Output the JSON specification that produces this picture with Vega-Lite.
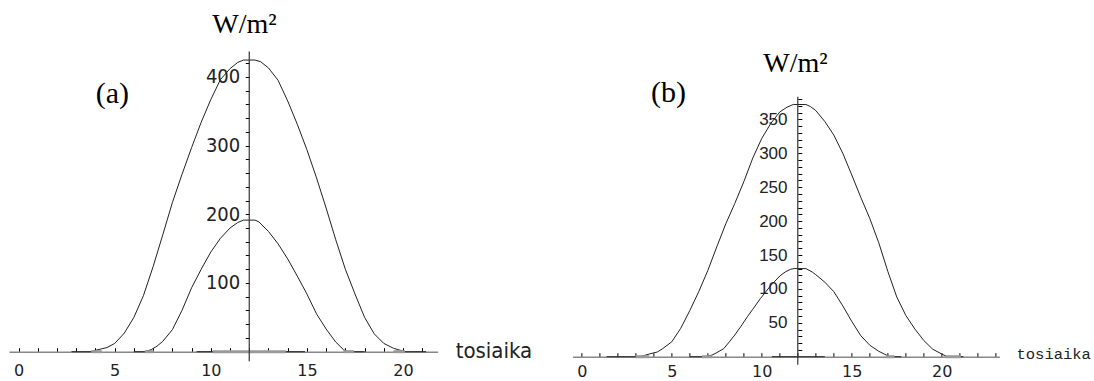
{
  "$schema": "https://vega.github.io/schema/vega-lite/v6.json",
  "padding": {"left": 9, "top": 0, "right": 0, "bottom": 0},
  "background": "white",
  "config": {"view": {"stroke": null}, "axis": {"labelOverlap": false, "labelFlush": false}},
  "bounds": "flush",
  "spacing": 134.4,
  "datasets": {
    "curvesA": [
      {"s": "top", "t": 2.75, "v": 0}, {"s": "top", "t": 3.78, "v": 0}, {"s": "top", "t": 4, "v": 2}, {"s": "top", "t": 4.3, "v": 4}, {"s": "top", "t": 4.6, "v": 6}, {"s": "top", "t": 5, "v": 12}, {"s": "top", "t": 5.5, "v": 27}, {"s": "top", "t": 6, "v": 50}, {"s": "top", "t": 6.5, "v": 82}, {"s": "top", "t": 7, "v": 124}, {"s": "top", "t": 7.5, "v": 170}, {"s": "top", "t": 8, "v": 217}, {"s": "top", "t": 8.5, "v": 258}, {"s": "top", "t": 9, "v": 297}, {"s": "top", "t": 9.5, "v": 334}, {"s": "top", "t": 10, "v": 367}, {"s": "top", "t": 10.5, "v": 396}, {"s": "top", "t": 11, "v": 412}, {"s": "top", "t": 11.4, "v": 421}, {"s": "top", "t": 11.7, "v": 424.5}, {"s": "top", "t": 12.3, "v": 424.5}, {"s": "top", "t": 12.6, "v": 422}, {"s": "top", "t": 13, "v": 413}, {"s": "top", "t": 13.5, "v": 395}, {"s": "top", "t": 14, "v": 365}, {"s": "top", "t": 14.5, "v": 331}, {"s": "top", "t": 15, "v": 294}, {"s": "top", "t": 15.5, "v": 253}, {"s": "top", "t": 16, "v": 209}, {"s": "top", "t": 16.5, "v": 163}, {"s": "top", "t": 17, "v": 120}, {"s": "top", "t": 17.5, "v": 84}, {"s": "top", "t": 18, "v": 50}, {"s": "top", "t": 18.5, "v": 26}, {"s": "top", "t": 19, "v": 12}, {"s": "top", "t": 19.5, "v": 5}, {"s": "top", "t": 20.1, "v": 0}, {"s": "top", "t": 21.2, "v": 0},
      {"s": "low", "t": 6.0, "v": 0}, {"s": "low", "t": 6.57, "v": 0}, {"s": "low", "t": 6.9, "v": 3}, {"s": "low", "t": 7.2, "v": 8}, {"s": "low", "t": 7.5, "v": 15}, {"s": "low", "t": 8, "v": 32}, {"s": "low", "t": 8.5, "v": 60}, {"s": "low", "t": 9, "v": 93}, {"s": "low", "t": 9.5, "v": 120}, {"s": "low", "t": 10, "v": 145}, {"s": "low", "t": 10.5, "v": 165}, {"s": "low", "t": 11, "v": 180}, {"s": "low", "t": 11.4, "v": 188}, {"s": "low", "t": 11.7, "v": 191.5}, {"s": "low", "t": 12.3, "v": 191.5}, {"s": "low", "t": 12.5, "v": 189}, {"s": "low", "t": 13, "v": 175}, {"s": "low", "t": 13.5, "v": 157}, {"s": "low", "t": 14, "v": 135}, {"s": "low", "t": 14.5, "v": 110}, {"s": "low", "t": 15, "v": 84}, {"s": "low", "t": 15.5, "v": 55}, {"s": "low", "t": 16, "v": 33}, {"s": "low", "t": 16.5, "v": 14}, {"s": "low", "t": 16.9, "v": 3}, {"s": "low", "t": 17.1, "v": 0}, {"s": "low", "t": 18, "v": 0},
      {"s": "zero", "t": 9.26, "v": 0}, {"s": "zero", "t": 14.9, "v": 0}
    ],
    "curvesB": [
      {"s": "top", "t": 1.38, "v": 0}, {"s": "top", "t": 3.2, "v": 0}, {"s": "top", "t": 3.5, "v": 2}, {"s": "top", "t": 3.75, "v": 4}, {"s": "top", "t": 4.2, "v": 7}, {"s": "top", "t": 4.5, "v": 12}, {"s": "top", "t": 5, "v": 22}, {"s": "top", "t": 5.5, "v": 42}, {"s": "top", "t": 6, "v": 68}, {"s": "top", "t": 6.5, "v": 96}, {"s": "top", "t": 7, "v": 127}, {"s": "top", "t": 7.5, "v": 162}, {"s": "top", "t": 8, "v": 196}, {"s": "top", "t": 8.5, "v": 226}, {"s": "top", "t": 9, "v": 258}, {"s": "top", "t": 9.5, "v": 293}, {"s": "top", "t": 10, "v": 322}, {"s": "top", "t": 10.5, "v": 344}, {"s": "top", "t": 11, "v": 361}, {"s": "top", "t": 11.4, "v": 368}, {"s": "top", "t": 11.75, "v": 372}, {"s": "top", "t": 12.45, "v": 372}, {"s": "top", "t": 12.7, "v": 369}, {"s": "top", "t": 13, "v": 363}, {"s": "top", "t": 13.5, "v": 347}, {"s": "top", "t": 14, "v": 327}, {"s": "top", "t": 14.5, "v": 300}, {"s": "top", "t": 15, "v": 268}, {"s": "top", "t": 15.5, "v": 235}, {"s": "top", "t": 16, "v": 204}, {"s": "top", "t": 16.5, "v": 168}, {"s": "top", "t": 17, "v": 126}, {"s": "top", "t": 17.5, "v": 88}, {"s": "top", "t": 18, "v": 61}, {"s": "top", "t": 18.5, "v": 41}, {"s": "top", "t": 19, "v": 24}, {"s": "top", "t": 19.5, "v": 11}, {"s": "top", "t": 20, "v": 4}, {"s": "top", "t": 20.3, "v": 0}, {"s": "top", "t": 21.2, "v": 0},
      {"s": "low", "t": 6.0, "v": 0}, {"s": "low", "t": 6.86, "v": 0}, {"s": "low", "t": 7.24, "v": 2.5}, {"s": "low", "t": 7.5, "v": 6}, {"s": "low", "t": 7.89, "v": 12}, {"s": "low", "t": 8.2, "v": 22}, {"s": "low", "t": 8.5, "v": 32}, {"s": "low", "t": 8.82, "v": 44}, {"s": "low", "t": 9.2, "v": 59}, {"s": "low", "t": 9.5, "v": 70}, {"s": "low", "t": 9.93, "v": 86}, {"s": "low", "t": 10.5, "v": 105}, {"s": "low", "t": 11, "v": 119}, {"s": "low", "t": 11.3, "v": 125}, {"s": "low", "t": 11.6, "v": 129}, {"s": "low", "t": 11.8, "v": 130}, {"s": "low", "t": 12.45, "v": 130}, {"s": "low", "t": 12.8, "v": 125}, {"s": "low", "t": 13, "v": 121}, {"s": "low", "t": 13.5, "v": 110}, {"s": "low", "t": 14, "v": 96}, {"s": "low", "t": 14.5, "v": 75}, {"s": "low", "t": 15, "v": 52}, {"s": "low", "t": 15.5, "v": 31}, {"s": "low", "t": 16, "v": 17}, {"s": "low", "t": 16.5, "v": 8}, {"s": "low", "t": 16.8, "v": 4}, {"s": "low", "t": 17.1, "v": 0}, {"s": "low", "t": 17.75, "v": 0},
      {"s": "zero", "t": 10.56, "v": 0}, {"s": "zero", "t": 13.5, "v": 0}
    ],
    "blobsA": [
      {"t1": 3.78, "t2": 4.33, "v": 0}, {"t1": 6.57, "t2": 7.03, "v": 0}, {"t1": 10.1, "t2": 13.9, "v": 0}, {"t1": 16.9, "t2": 17.45, "v": 0}, {"t1": 19.5, "t2": 20.1, "v": 0}
    ],
    "blobsB": [
      {"t1": 2.99, "t2": 3.75, "v": 0}, {"t1": 6.68, "t2": 7.25, "v": 0}, {"t1": 16.9, "t2": 17.37, "v": 0}, {"t1": 20.2, "t2": 21.06, "v": 0}
    ],
    "axisA": [{"t": 12, "v1": -14, "v2": 437}],
    "axisB": [{"t": 12, "v1": -12, "v2": 383.5}],
    "serifA": [{"label": "(a)", "t": 4.875, "v": 361.6, "size": "big"}, {"label": "W/m²", "t": 11.75, "v": 463.5, "size": "mid"}],
    "serifB": [{"label": "(b)", "t": 4.82, "v": 376, "size": "big"}, {"label": "W/m²", "t": 11.87, "v": 420.4, "size": "mid"}],
    "unitA": [{"label": "tosiaika", "t": 22.74, "v": -9.6}],
    "unitB": [{"label": "tosiaika", "t": 24.15, "v": -3.4}]
  },
  "hconcat": [
    {
      "width": 428.6,
      "height": 365,
      "layer": [
        {
          "data": {"name": "curvesA"},
          "mark": {"type": "line", "color": "#222", "strokeWidth": 1},
          "encoding": {
            "x": {"field": "t", "type": "quantitative", "title": null, "scale": {"domain": [-0.5, 21.8], "nice": false, "zero": false},
              "axis": {"title": null, "grid": false, "orient": "bottom", "offset": -13.3, "tickCount": 500, "format": "d", "values": [0,1,2,3,4,5,6,7,8,9,10,11,12,13,14,15,16,17,18,19,20,21],
                "labelExpr": "datum.value % 5 === 0 ? datum.label : ''", "labelFlush": false, "labelOverlap": false,
                "domainColor": "#888", "domainWidth": 1.5, "tickColor": "#000", "tickSize": -4, "tickWidth": 1,
                "labelPadding": 14.5, "labelFont": "DejaVu Sans", "labelFontSize": 16, "labelColor": "#222"}},
            "y": {"field": "v", "type": "quantitative", "title": null, "scale": {"domain": [-19.4, 511.9], "nice": false, "zero": false},
              "axis": {"title": null, "grid": false, "orient": "left", "offset": -240.25, "domain": false, "tickCount": 500, "format": "d",
                "values": [20,40,60,80,100,120,140,160,180,200,220,240,260,280,300,320,340,360,380,400,420],
                "labelExpr": "datum.value % 100 === 0 ? datum.label : ''", "labelFlush": false, "labelOverlap": false,
                "tickColor": "#000", "tickSize": 4, "tickWidth": 1, "labelPadding": 5.5,
                "labelFont": "'Liberation Sans Narrow', 'DejaVu Sans Condensed', 'Liberation Sans', sans-serif", "labelFontSize": 20, "labelColor": "#222"}},
            "detail": {"field": "s"}
          }
        },
        {
          "data": {"name": "blobsA"},
          "mark": {"type": "rule", "color": "#999", "strokeWidth": 3},
          "encoding": {
            "x": {"field": "t1", "type": "quantitative", "title": null},
            "x2": {"field": "t2"},
            "y": {"field": "v", "type": "quantitative", "title": null}
          }
        },
        {
          "data": {"name": "axisA"},
          "mark": {"type": "rule", "color": "#333", "strokeWidth": 1.2},
          "encoding": {
            "x": {"field": "t", "type": "quantitative", "title": null},
            "y": {"field": "v1", "type": "quantitative", "title": null},
            "y2": {"field": "v2"}
          }
        },
        {
          "data": {"name": "serifA"},
          "mark": {"type": "text", "font": "Liberation Serif", "align": "center", "baseline": "alphabetic", "color": "#000"},
          "encoding": {
            "x": {"field": "t", "type": "quantitative", "title": null},
            "y": {"field": "v", "type": "quantitative", "title": null},
            "text": {"field": "label"},
            "size": {"field": "size", "type": "nominal", "scale": {"domain": ["big", "mid"], "range": [30, 28]}, "legend": null}
          }
        },
        {
          "data": {"name": "unitA"},
          "mark": {"type": "text", "font": "'Liberation Sans Narrow', 'DejaVu Sans Condensed', 'Liberation Sans', sans-serif", "fontSize": 22, "align": "left", "baseline": "alphabetic", "color": "#222"},
          "encoding": {
            "x": {"field": "t", "type": "quantitative", "title": null},
            "y": {"field": "v", "type": "quantitative", "title": null},
            "text": {"field": "label"}
          }
        }
      ]
    },
    {
      "width": 427,
      "height": 365,
      "layer": [
        {
          "data": {"name": "curvesB"},
          "mark": {"type": "line", "color": "#222", "strokeWidth": 1},
          "encoding": {
            "x": {"field": "t", "type": "quantitative", "title": null, "scale": {"domain": [-0.52, 23.2], "nice": false, "zero": false},
              "axis": {"title": null, "grid": false, "orient": "bottom", "offset": -8.3, "tickCount": 500, "format": "d", "values": [0,1,2,3,4,5,6,7,8,9,10,11,12,13,14,15,16,17,18,19,20,21,22,23],
                "labelExpr": "datum.value % 5 === 0 ? datum.label : ''", "labelFlush": false, "labelOverlap": false,
                "domainColor": "#888", "domainWidth": 1.5, "tickColor": "#000", "tickSize": -4, "tickWidth": 1,
                "labelPadding": 11, "labelFont": "DejaVu Sans", "labelFontSize": 16, "labelColor": "#222"}},
            "y": {"field": "v", "type": "quantitative", "title": null, "scale": {"domain": [-12.2, 526.1], "nice": false, "zero": false},
              "axis": {"title": null, "grid": false, "orient": "left", "offset": -225.4, "domain": false, "tickCount": 500, "format": "d",
                "values": [10,20,30,40,50,60,70,80,90,100,110,120,130,140,150,160,170,180,190,200,210,220,230,240,250,260,270,280,290,300,310,320,330,340,350,360,370,380],
                "labelExpr": "datum.value % 50 === 0 ? datum.label : ''", "labelFlush": false, "labelOverlap": false,
                "tickColor": "#000", "tickSize": -4, "tickWidth": 1, "labelPadding": 14.8,
                "labelFont": "Liberation Sans", "labelFontSize": 17, "labelColor": "#222"}},
            "detail": {"field": "s"}
          }
        },
        {
          "data": {"name": "blobsB"},
          "mark": {"type": "rule", "color": "#999", "strokeWidth": 3},
          "encoding": {
            "x": {"field": "t1", "type": "quantitative", "title": null},
            "x2": {"field": "t2"},
            "y": {"field": "v", "type": "quantitative", "title": null}
          }
        },
        {
          "data": {"name": "axisB"},
          "mark": {"type": "rule", "color": "#333", "strokeWidth": 1.2},
          "encoding": {
            "x": {"field": "t", "type": "quantitative", "title": null},
            "y": {"field": "v1", "type": "quantitative", "title": null},
            "y2": {"field": "v2"}
          }
        },
        {
          "data": {"name": "serifB"},
          "mark": {"type": "text", "font": "Liberation Serif", "align": "center", "baseline": "alphabetic", "color": "#000"},
          "encoding": {
            "x": {"field": "t", "type": "quantitative", "title": null},
            "y": {"field": "v", "type": "quantitative", "title": null},
            "text": {"field": "label"},
            "size": {"field": "size", "type": "nominal", "scale": {"domain": ["big", "mid"], "range": [30, 28]}, "legend": null}
          }
        },
        {
          "data": {"name": "unitB"},
          "mark": {"type": "text", "font": "Liberation Mono", "fontSize": 15.5, "align": "left", "baseline": "alphabetic", "color": "#222"},
          "encoding": {
            "x": {"field": "t", "type": "quantitative", "title": null},
            "y": {"field": "v", "type": "quantitative", "title": null},
            "text": {"field": "label"}
          }
        }
      ]
    }
  ]
}
